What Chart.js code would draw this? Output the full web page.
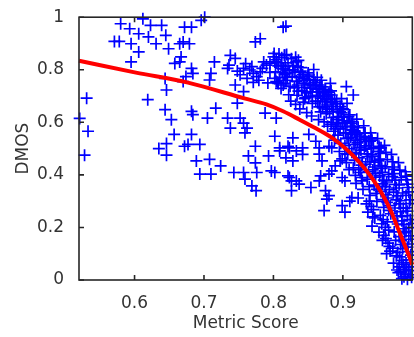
<!DOCTYPE html>
<html><head><meta charset="utf-8">
<script src="https://cdn.jsdelivr.net/npm/chart.js@4"></script>
<style>
html,body{margin:0;padding:0;overflow:hidden;background:#fff;width:414px;height:337px}
#wrap{position:relative;width:420px;height:337px}
</style></head>
<body><div id="wrap"><canvas id="c"></canvas></div>
<script>
// ---- data ----
const xTickValues = [0.6, 0.7, 0.8, 0.9];
const yTickValues = [0, 0.2, 0.4, 0.6, 0.8, 1];
const xTitle = 'Metric Score';
const yTitle = 'DMOS';

// fitted curve (red)
const fitScore = [0.52,0.602,0.677,0.758,0.790,0.814,0.837,0.861,0.885,0.903,0.915,0.929,0.942,0.956,0.970,0.978,0.988,0.995,1.0];
const fitDmos  = [0.834,0.789,0.751,0.691,0.668,0.642,0.611,0.577,0.540,0.502,0.472,0.432,0.388,0.330,0.258,0.205,0.140,0.094,0.058];

// scatter samples [metric score, DMOS]
const upperCluster = [
[0.580,0.975],[0.593,0.956],[0.612,0.994],[0.623,0.969],[0.639,0.969],[0.606,0.937],[0.571,0.908],[0.578,0.908],
[0.595,0.899],[0.620,0.925],[0.631,0.899],[0.645,0.931],[0.606,0.868],[0.595,0.830],[0.649,0.880],[0.665,0.899],
[0.667,0.849],[0.665,0.830],[0.658,0.824],[0.672,0.962],[0.682,0.962],[0.696,0.988],[0.701,1.0],[0.814,0.962],
[0.670,0.906],[0.679,0.899],[0.774,0.906],[0.781,0.918],[0.816,0.855],[0.738,0.855],[0.745,0.843],[0.715,0.830],
[0.682,0.805],[0.684,0.786],[0.710,0.786],[0.708,0.761],[0.736,0.818],[0.734,0.805],[0.745,0.742],[0.757,0.717],
[0.757,0.805],[0.766,0.799],[0.771,0.786],[0.776,0.774],[0.781,0.792],[0.786,0.830],[0.790,0.818],[0.802,0.830],
[0.762,0.767],[0.752,0.781],[0.804,0.755],[0.814,0.742],[0.818,0.786],[0.674,0.774],[0.670,0.755],[0.644,0.767],
[0.646,0.723],[0.748,0.795],[0.760,0.823],[0.769,0.812],[0.779,0.760],[0.784,0.805],[0.795,0.790],[0.792,0.750],
[0.771,0.752],[0.818,0.966]
];
const leftStray = [
[0.531,0.692],[0.533,0.566],[0.521,0.615],[0.528,0.475],[0.619,0.686],[0.644,0.648],[0.653,0.610],[0.657,0.554],
[0.646,0.519],[0.635,0.500],[0.646,0.475],[0.672,0.509]
];
const midScatter = [
[0.682,0.642],[0.684,0.629],[0.717,0.654],[0.705,0.616],[0.734,0.616],[0.752,0.616],[0.757,0.597],[0.748,0.673],
[0.788,0.635],[0.738,0.578],[0.762,0.578],[0.759,0.560],[0.682,0.554],[0.677,0.516],[0.694,0.516],[0.774,0.509],
[0.802,0.547],[0.821,0.509],[0.804,0.616],[0.689,0.453],[0.708,0.459],[0.694,0.403],[0.710,0.403],[0.724,0.434],
[0.743,0.409],[0.757,0.409],[0.759,0.384],[0.769,0.358],[0.775,0.340],[0.764,0.472],[0.774,0.446],[0.776,0.409],
[0.793,0.472],[0.797,0.415],[0.802,0.409],[0.809,0.491],[0.818,0.465],[0.821,0.396],[0.826,0.377],[0.826,0.340],
[0.823,0.503],[0.833,0.491],[0.842,0.478],[0.828,0.453],[0.866,0.479],[0.870,0.453],[0.866,0.503],[0.823,0.390],
[0.833,0.377],[0.837,0.365],[0.854,0.352],[0.866,0.377],[0.868,0.396],[0.880,0.403],[0.884,0.415],[0.875,0.340],
[0.880,0.321],[0.877,0.308],[0.873,0.264],[0.899,0.283],[0.903,0.258],[0.910,0.300],[0.913,0.314],[0.899,0.390],
[0.903,0.377],[0.889,0.434],[0.896,0.453],[0.880,0.509],[0.828,0.541],[0.851,0.554],[0.809,0.503],[0.842,0.503],
[0.861,0.528],[0.884,0.503]
];
const denseBand = [
[0.800,0.849],[0.816,0.855],[0.811,0.818],[0.795,0.824],[0.833,0.830],[0.835,0.811],[0.802,0.767],[0.807,0.748],
[0.851,0.780],[0.866,0.729],[0.873,0.717],[0.884,0.704],[0.877,0.686],[0.896,0.660],[0.901,0.648],[0.905,0.736],
[0.915,0.704],[0.917,0.566],[0.931,0.560],[0.941,0.541],[0.955,0.503],[0.913,0.572],[0.920,0.554],[0.932,0.541],
[0.939,0.528],[0.953,0.503],[0.882,0.748],[0.898,0.690],[0.906,0.672],
[0.801,0.862],[0.804,0.838],[0.807,0.815],[0.803,0.792],[0.809,0.771],[0.812,0.846],[0.814,0.803],[0.811,0.729],[0.806,0.752],[0.816,0.781],
[0.819,0.858],[0.821,0.826],[0.823,0.797],[0.818,0.760],[0.824,0.737],[0.822,0.705],[0.826,0.842],[0.827,0.774],[0.825,0.681],
[0.829,0.815],[0.831,0.790],[0.833,0.757],[0.830,0.731],[0.834,0.703],[0.832,0.668],[0.836,0.836],[0.837,0.772],[0.835,0.742],[0.838,0.651],
[0.840,0.808],[0.842,0.781],[0.844,0.749],[0.841,0.722],[0.846,0.694],[0.843,0.677],[0.847,0.760],[0.845,0.733],[0.848,0.637],
[0.850,0.788],[0.852,0.763],[0.854,0.716],[0.851,0.697],[0.856,0.672],[0.853,0.745],[0.857,0.739],[0.855,0.624],[0.858,0.801],
[0.860,0.752],[0.862,0.726],[0.864,0.703],[0.861,0.681],[0.866,0.659],[0.863,0.771],[0.867,0.742],[0.865,0.610],[0.868,0.692],
[0.870,0.735],[0.872,0.712],[0.874,0.679],[0.871,0.655],[0.876,0.633],[0.873,0.602],[0.877,0.699],[0.875,0.666],[0.878,0.585],
[0.880,0.715],[0.882,0.688],[0.884,0.661],[0.881,0.640],[0.886,0.618],[0.883,0.592],[0.887,0.566],[0.885,0.675],[0.888,0.532],
[0.890,0.670],[0.892,0.647],[0.894,0.622],[0.891,0.598],[0.896,0.575],[0.893,0.551],[0.897,0.520],[0.895,0.489],[0.898,0.636],[0.899,0.461],
[0.900,0.651],[0.902,0.606],[0.904,0.583],[0.901,0.560],[0.906,0.538],[0.903,0.511],[0.907,0.478],[0.905,0.447],[0.908,0.622],[0.909,0.420],
[0.910,0.628],[0.912,0.596],[0.914,0.569],[0.911,0.543],[0.916,0.515],[0.913,0.486],[0.917,0.456],[0.915,0.427],[0.918,0.398],[0.919,0.368],[0.914,0.603],
[0.920,0.612],[0.922,0.580],[0.924,0.548],[0.921,0.522],[0.926,0.494],[0.923,0.465],[0.927,0.437],[0.925,0.409],[0.928,0.377],[0.929,0.345],[0.922,0.312],
[0.930,0.587],[0.932,0.559],[0.934,0.527],[0.931,0.498],[0.936,0.469],[0.933,0.441],[0.937,0.412],[0.935,0.384],[0.938,0.355],[0.939,0.322],[0.934,0.290],[0.936,0.258],
[0.940,0.560],[0.942,0.532],[0.944,0.505],[0.941,0.476],[0.946,0.448],[0.943,0.419],[0.947,0.391],[0.945,0.361],[0.948,0.330],[0.949,0.299],[0.944,0.268],[0.946,0.236],[0.942,0.205],
[0.950,0.538],[0.952,0.509],[0.954,0.482],[0.951,0.453],[0.956,0.425],[0.953,0.396],[0.957,0.366],[0.955,0.337],[0.958,0.306],[0.959,0.276],[0.954,0.246],[0.956,0.214],[0.952,0.182],[0.957,0.151],
[0.960,0.512],[0.962,0.486],[0.964,0.458],[0.961,0.431],[0.966,0.402],[0.963,0.373],[0.967,0.344],[0.965,0.312],[0.968,0.283],[0.969,0.252],[0.964,0.221],[0.966,0.190],[0.962,0.158],[0.967,0.128],[0.963,0.100],
[0.970,0.478],[0.972,0.450],[0.974,0.421],[0.971,0.393],[0.976,0.364],[0.973,0.334],[0.977,0.305],[0.975,0.274],[0.978,0.244],[0.979,0.213],[0.974,0.183],[0.976,0.151],[0.972,0.121],[0.977,0.092],[0.973,0.064],[0.978,0.038],
[0.980,0.447],[0.982,0.418],[0.984,0.390],[0.981,0.362],[0.986,0.331],[0.983,0.302],[0.987,0.273],[0.985,0.241],[0.988,0.211],[0.989,0.180],[0.984,0.150],[0.986,0.119],[0.982,0.088],[0.987,0.059],[0.983,0.031],[0.988,0.012],
[0.990,0.412],[0.992,0.381],[0.994,0.352],[0.991,0.322],[0.996,0.291],[0.993,0.262],[0.997,0.230],[0.995,0.199],[0.998,0.168],[0.999,0.137],[0.994,0.108],[0.996,0.077],[0.992,0.048],[0.997,0.020],[0.993,0.003],
[0.985,0.005],[0.990,0.022],[0.995,0.036],[0.999,0.010],[0.980,0.028]
];
const coreExtra = [
[0.805,0.826],[0.813,0.789],[0.808,0.860],[0.817,0.812],[0.820,0.771],[0.815,0.748],
[0.828,0.800],[0.832,0.848],[0.839,0.795],[0.836,0.719],[0.843,0.766],[0.848,0.712],[0.849,0.775],[0.845,0.690],
[0.853,0.730],[0.858,0.760],[0.856,0.700],[0.862,0.742],[0.866,0.715],[0.869,0.760],[0.864,0.680],[0.868,0.640],
[0.871,0.700],[0.875,0.725],[0.878,0.650],[0.879,0.705],[0.883,0.720],[0.886,0.650],[0.888,0.690],[0.884,0.600],[0.889,0.575],
[0.891,0.680],[0.893,0.610],[0.896,0.640],[0.899,0.595],[0.901,0.620],[0.904,0.560],[0.906,0.598],[0.908,0.540],[0.893,0.585],[0.903,0.480],[0.909,0.500],
[0.911,0.585],[0.913,0.555],[0.916,0.585],[0.918,0.530],[0.919,0.480],[0.921,0.560],[0.924,0.505],[0.926,0.535],[0.928,0.450],[0.923,0.420],[0.927,0.390],
[0.931,0.545],[0.933,0.510],[0.935,0.480],[0.937,0.530],[0.939,0.450],[0.941,0.500],[0.943,0.470],[0.945,0.430],[0.947,0.405],[0.949,0.345],[0.938,0.300],[0.941,0.280],[0.943,0.240],
[0.951,0.490],[0.953,0.460],[0.955,0.435],[0.957,0.410],[0.959,0.380],[0.961,0.355],[0.962,0.325],[0.964,0.295],[0.966,0.265],[0.958,0.230],[0.961,0.200],[0.959,0.170],[0.965,0.140],[0.968,0.110],
[0.971,0.430],[0.973,0.405],[0.975,0.380],[0.977,0.350],[0.979,0.320],[0.981,0.290],[0.983,0.260],[0.985,0.225],[0.987,0.195],[0.981,0.165],[0.983,0.135],[0.979,0.105],[0.985,0.075],[0.981,0.050],[0.989,0.040],
[0.991,0.395],[0.993,0.365],[0.995,0.335],[0.997,0.305],[0.991,0.275],[0.993,0.245],[0.999,0.215],[0.991,0.185],[0.995,0.155],[0.993,0.125],[0.998,0.095],[0.991,0.065],[0.999,0.050]
];

// ---- chart ----
const toPts = arr => arr.map(p => ({x: p[0], y: p[1]}));
const scatterPts = toPts([].concat(upperCluster, leftStray, midScatter, denseBand, coreExtra));
const fitPts = fitScore.map((v, i) => ({x: v, y: fitDmos[i]}));

const FONT = {family: "'DejaVu Sans', sans-serif", size: 17};
const TEXT = '#333';

const framePlugin = {
  id: 'frame',
  afterDraw(chart) {
    const {ctx, chartArea: a, scales: {x, y}} = chart;
    ctx.save();
    ctx.strokeStyle = '#262626';
    ctx.lineWidth = 1.6;
    ctx.strokeRect(a.left, a.top, a.right - a.left, a.bottom - a.top);
    ctx.beginPath();
    xTickValues.forEach(v => {
      const px = x.getPixelForValue(v);
      ctx.moveTo(px, a.bottom); ctx.lineTo(px, a.bottom - 5);
      ctx.moveTo(px, a.top); ctx.lineTo(px, a.top + 5);
    });
    yTickValues.forEach(v => {
      const py = y.getPixelForValue(v);
      ctx.moveTo(a.left, py); ctx.lineTo(a.left + 5, py);
      ctx.moveTo(a.right, py); ctx.lineTo(a.right - 5, py);
    });
    ctx.stroke();
    ctx.restore();
  }
};

new Chart(document.getElementById('c'), {
  type: 'scatter',
  data: {
    datasets: [
      {
        label: 'fit', data: fitPts, showLine: true, borderColor: '#ff0000', borderWidth: 4,
        pointRadius: 0, fill: false, cubicInterpolationMode: 'monotone', clip: false
      },
      {
        label: 'samples', data: scatterPts, showLine: false, pointStyle: 'cross', pointRadius: 6,
        borderColor: '#0000ff', backgroundColor: '#0000ff', borderWidth: 1.7, clip: false
      }
    ]
  },
  options: {
    responsive: true, maintainAspectRatio: false, animation: false, devicePixelRatio: 1,
    layout: {padding: {left: 0, right: 2, top: 15, bottom: 0}},
    plugins: {legend: {display: false}, tooltip: {enabled: false}},
    events: [],
    scales: {
      x: {
        type: 'linear', min: 0.52, max: 1.0,
        afterBuildTicks: s => { s.ticks = xTickValues.map(v => ({value: v})); },
        afterFit: s => { s.height = 57; },
        grid: {display: false}, border: {display: false},
        ticks: {font: FONT, color: TEXT, padding: 5, maxRotation: 0, autoSkip: false, callback: v => String(v)},
        title: {display: true, text: xTitle, font: FONT, color: TEXT, padding: {top: 0, bottom: 3}}
      },
      y: {
        type: 'linear', min: 0, max: 1,
        afterBuildTicks: s => { s.ticks = yTickValues.map(v => ({value: v})); },
        afterFit: s => { s.width = 79; },
        grid: {display: false}, border: {display: false},
        ticks: {font: FONT, color: TEXT, padding: 7, autoSkip: false, callback: v => String(v)},
        title: {display: true, text: yTitle, font: FONT, color: TEXT, padding: {top: 13, bottom: 0}}
      }
    }
  },
  plugins: [framePlugin]
});
</script></body></html>
